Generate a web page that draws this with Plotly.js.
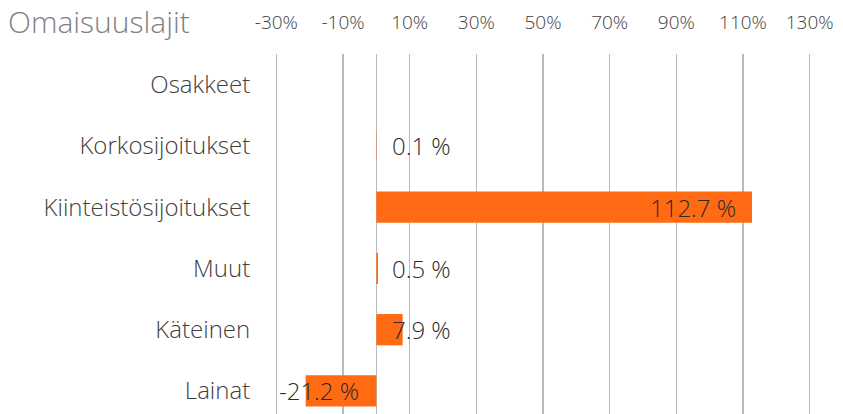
<!DOCTYPE html>
<html>
<head>
<meta charset="utf-8">
<script src="https://cdn.plot.ly/plotly-3.0.1.min.js"></script>
<style>html,body{margin:0;padding:0;background:#fff;}#chart{width:843px;height:414px;}</style>
</head>
<body>
<div id="chart"></div>
<script>
const categories = ["Osakkeet", "Korkosijoitukset", "Kiinteistösijoitukset", "Muut", "Käteinen", "Lainat"];
const values = [null, 0.1, 112.7, 0.5, 7.9, -21.2];
const tickValues = [-30, -10, 10, 30, 50, 70, 90, 110, 130];
const tickLabels = ["-30%", "-10%", "10%", "30%", "50%", "70%", "90%", "110%", "130%"];
const chartTitle = "Omaisuuslajit";

const FONT = "Open Sans, Lato, sans-serif";
const barColor = "#FF6A13";

const annotations = [];
values.forEach((v, i) => {
  if (v === null) return;
  const label = v.toFixed(1) + " %";
  let a;
  if (v >= 50) a = {x: v, xanchor: "right", xshift: -14};
  else if (v >= 0) a = {x: 0, xanchor: "left", xshift: 14};
  else a = {x: 0, xanchor: "right", xshift: -15};
  annotations.push(Object.assign({
    y: categories[i], xref: "x", yref: "y", text: label, showarrow: false,
    yanchor: "middle", font: {family: FONT, size: 24, color: "#2b2b2b", weight: 300}
  }, a));
});

const trace = {
  type: "bar", orientation: "h",
  x: values, y: categories,
  marker: {color: barColor},
  hoverinfo: "skip"
};

const layout = {
  width: 843, height: 414,
  margin: {l: 273, r: 30, t: 54, b: 0, pad: 0},
  paper_bgcolor: "#fff", plot_bgcolor: "#fff",
  showlegend: false,
  bargap: 0.49,
  title: {text: chartTitle, xref: "container", yref: "container", x: 8/843, xanchor: "left",
          y: 1 - 22/414, yanchor: "middle", font: {family: FONT, size: 30, color: "#7f7f7f", weight: 300}},
  xaxis: {
    side: "top", range: [-31, 131], tickvals: tickValues, ticktext: tickLabels,
    showgrid: true, gridcolor: "#bbbbbb", gridwidth: 1.5,
    zeroline: true, zerolinecolor: "#bbbbbb", zerolinewidth: 1.5,
    ticks: "outside", ticklen: 16, tickcolor: "rgba(0,0,0,0)",
    tickfont: {family: FONT, size: 19, color: "#404040", weight: 300},
    showline: false, fixedrange: true
  },
  yaxis: {
    type: "category", categoryorder: "array", categoryarray: categories,
    range: [5.376, -0.5], showgrid: false, zeroline: false, showline: false,
    ticks: "outside", ticklen: 17, tickcolor: "rgba(0,0,0,0)",
    tickfont: {family: FONT, size: 24, color: "#404040", weight: 300},
    fixedrange: true
  },
  annotations: annotations
};

Plotly.newPlot("chart", [trace], layout, {displayModeBar: false, staticPlot: true});
</script>
</body>
</html>
